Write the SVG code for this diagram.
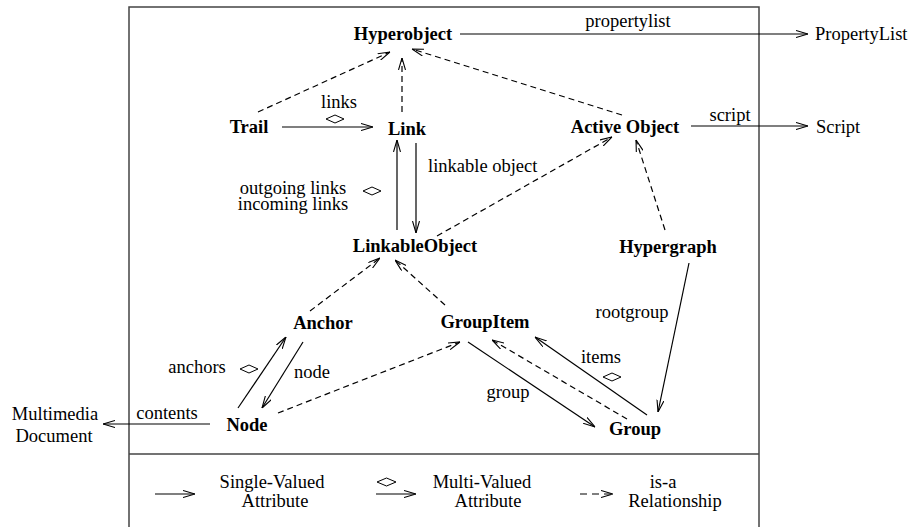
<svg xmlns="http://www.w3.org/2000/svg" width="913" height="527" viewBox="0 0 913 527">
<style>
.n{font-family:"Liberation Serif",serif;font-weight:bold;font-size:18.5px;text-anchor:middle;fill:#000}
.l{font-family:"Liberation Serif",serif;font-size:18.5px;text-anchor:middle;fill:#000}
.s{text-anchor:start}
.c{stroke:#000;stroke-width:1.2;fill:none}
.a{marker-end:url(#ah)}
.d{stroke-dasharray:6 4}
.dm{fill:#fff;stroke:#000;stroke-width:1}
</style>
<defs>
<marker id="ah" viewBox="0 0 12 8" refX="12" refY="4" markerWidth="12" markerHeight="8" orient="auto" markerUnits="userSpaceOnUse">
<path d="M0,0.5 L12,4 L0,7.5" fill="none" stroke="#000" stroke-width="1.1" stroke-dasharray="none"/>
</marker>
</defs>
<rect width="913" height="527" fill="#fff"/>
<g id="frame">
<rect x="129" y="7" width="630" height="530" fill="none" stroke="#444" stroke-width="1.5"/>
<line x1="129" y1="454" x2="759" y2="454" stroke="#444" stroke-width="1.5"/>
</g>
<g id="connectors">
<line class="c a" x1="460" y1="34" x2="808" y2="34"/>
<line class="c a" x1="691" y1="126" x2="808" y2="126"/>
<line class="c a" x1="282" y1="127" x2="373" y2="127"/>
<line class="c a" x1="416" y1="143" x2="416" y2="233"/>
<line class="c a" x1="397" y1="230" x2="397" y2="140"/>
<line class="c a d" x1="258" y1="112" x2="390" y2="52"/>
<line class="c a d" x1="402" y1="112" x2="402" y2="58"/>
<line class="c a d" x1="622" y1="115" x2="412" y2="49"/>
<line class="c a d" x1="437" y1="236" x2="612" y2="137"/>
<line class="c a d" x1="665" y1="230" x2="636" y2="140"/>
<line class="c a" x1="689" y1="263" x2="658" y2="412"/>
<line class="c a d" x1="310" y1="311" x2="380" y2="258"/>
<line class="c a d" x1="445" y1="305" x2="395" y2="260"/>
<line class="c a" x1="238" y1="408" x2="286" y2="337"/>
<line class="c a" x1="303" y1="342" x2="262" y2="408"/>
<line class="c a d" x1="278" y1="413" x2="460" y2="342"/>
<line class="c a" x1="468" y1="342" x2="595" y2="427"/>
<line class="c a" x1="647" y1="415" x2="535" y2="337"/>
<line class="c a d" x1="627" y1="419" x2="492" y2="340"/>
<line class="c a" x1="210" y1="424" x2="103" y2="424"/>
<polygon class="dm" points="326,119 335,115 344,119 335,123"/>
<polygon class="dm" points="363,191 372,187 381,191 372,195"/>
<polygon class="dm" points="240,369 249,365 258,369 249,373"/>
<polygon class="dm" points="603,377 612,373 621,377 612,381"/>
</g>
<g id="Hyperobject"><text class="n" x="403" y="40">Hyperobject</text></g>
<g id="PropertyList"><text class="l s" x="815" y="40">PropertyList</text></g>
<g id="Trail"><text class="n" x="249" y="133">Trail</text></g>
<g id="Link"><text class="n" x="407" y="135">Link</text></g>
<g id="ActiveObject"><text class="n" x="625" y="133">Active Object</text></g>
<g id="Script"><text class="l s" x="816" y="133">Script</text></g>
<g id="LinkableObject"><text class="n" x="415" y="252">LinkableObject</text></g>
<g id="Hypergraph"><text class="n" x="668" y="253">Hypergraph</text></g>
<g id="Anchor"><text class="n" x="323" y="329">Anchor</text></g>
<g id="GroupItem"><text class="n" x="485" y="328">GroupItem</text></g>
<g id="Node"><text class="n" x="247" y="431">Node</text></g>
<g id="Group"><text class="n" x="635" y="435">Group</text></g>
<g id="MultimediaDocument"><text class="l" x="55" y="420">Multimedia</text><text class="l" x="54" y="442">Document</text></g>
<g id="labels">
<text class="l" x="628" y="27">propertylist</text>
<text class="l" x="730" y="121">script</text>
<text class="l" x="339" y="108">links</text>
<text class="l s" x="428" y="172">linkable object</text>
<text class="l" x="293" y="194">outgoing links</text>
<text class="l" x="293" y="210">incoming links</text>
<text class="l" x="632" y="318">rootgroup</text>
<text class="l" x="197" y="373">anchors</text>
<text class="l" x="312" y="378">node</text>
<text class="l" x="601" y="363">items</text>
<text class="l" x="508" y="398">group</text>
<text class="l" x="167" y="419">contents</text>
</g>
<g id="legend">
<line class="c a" x1="155" y1="494" x2="195" y2="494"/>
<text class="l" x="272" y="488">Single-Valued</text>
<text class="l" x="275" y="507">Attribute</text>
<polygon class="dm" points="377,482 386.5,478 396,482 386.5,486"/>
<line class="c a" x1="376" y1="494" x2="416" y2="494"/>
<text class="l" x="482" y="488">Multi-Valued</text>
<text class="l" x="488" y="507">Attribute</text>
<line class="c a" x1="580" y1="494" x2="613" y2="494" style="stroke-dasharray:7 5"/>
<text class="l" x="663" y="488">is-a</text>
<text class="l" x="675" y="507">Relationship</text>
</g>
</svg>
